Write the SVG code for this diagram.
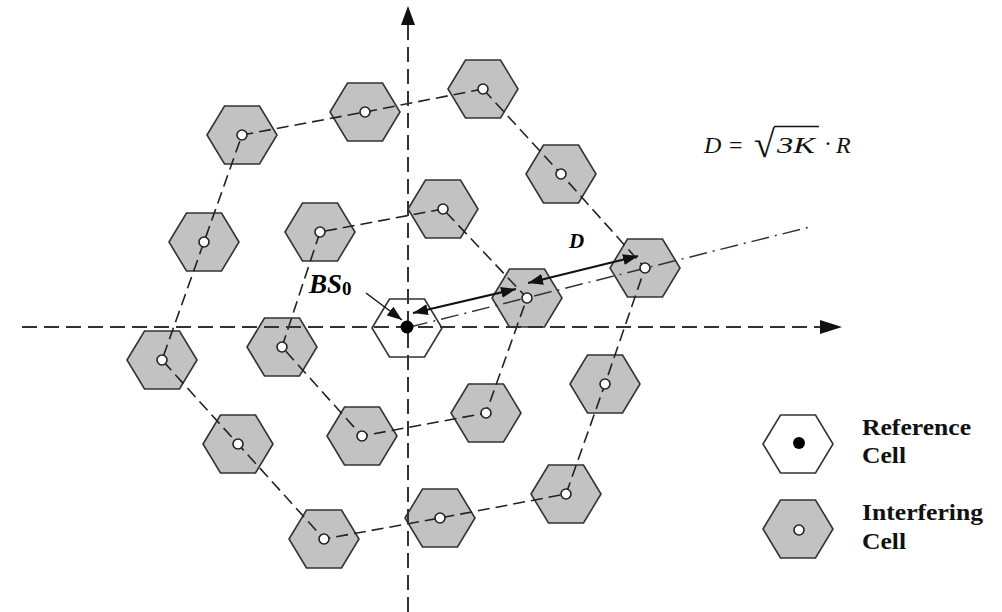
<svg xmlns="http://www.w3.org/2000/svg" xmlns:xlink="http://www.w3.org/1999/xlink" width="1002" height="612" viewBox="0 0 1002 612">
<style>
.ih{fill:#c2c2c2;stroke:#333;stroke-width:1.6}
.rh{fill:#fff;stroke:#333;stroke-width:1.6}
.bs{fill:#fff;stroke:#222;stroke-width:1.6}
.ring{fill:none;stroke:#222;stroke-width:1.6;stroke-dasharray:12 6}
.axis{fill:none;stroke:#333;stroke-width:2;stroke-dasharray:15 7}
.dd{fill:none;stroke:#333;stroke-width:1.5;stroke-dasharray:18 6 2 6}
.arr{fill:none;stroke:#111;stroke-width:2.2}
.lg{font-family:"Liberation Serif","Times New Roman",serif;font-weight:bold;font-size:24px;fill:#111}
.fm{font-family:"Liberation Serif","Times New Roman",serif;font-style:italic;font-size:24px;fill:#111}
.fn{font-family:"Liberation Serif","Times New Roman",serif;font-size:24px;fill:#111}
</style>
<defs>
<polygon id="hx" points="-35,0 -17.5,-29 17.5,-29 35,0 17.5,29 -17.5,29"/>
<marker id="ah" viewBox="0 0 15 11" refX="15" refY="5.5" markerWidth="15" markerHeight="11" markerUnits="userSpaceOnUse" orient="auto-start-reverse">
<path d="M0,0 L15,5.5 L0,11 z" fill="#111"/>
</marker>
</defs>
<rect width="1002" height="612" fill="#fff"/>

<g id="cells">
<g id="ref"><use href="#hx" x="407" y="328" class="rh"/></g>
<g id="a1"><use href="#hx" x="483" y="89" class="ih"/></g>
<g id="a2"><use href="#hx" x="365" y="112" class="ih"/></g>
<g id="a3"><use href="#hx" x="242" y="135" class="ih"/></g>
<g id="a4"><use href="#hx" x="204" y="242" class="ih"/></g>
<g id="a5"><use href="#hx" x="162" y="360" class="ih"/></g>
<g id="a6"><use href="#hx" x="238" y="444" class="ih"/></g>
<g id="a7"><use href="#hx" x="324" y="539" class="ih"/></g>
<g id="a8"><use href="#hx" x="440" y="518" class="ih"/></g>
<g id="a9"><use href="#hx" x="566" y="494" class="ih"/></g>
<g id="a10"><use href="#hx" x="605" y="384" class="ih"/></g>
<g id="a11"><use href="#hx" x="645" y="268" class="ih"/></g>
<g id="a12"><use href="#hx" x="561" y="174" class="ih"/></g>
<g id="b1"><use href="#hx" x="443" y="209" class="ih"/></g>
<g id="b2"><use href="#hx" x="320" y="232" class="ih"/></g>
<g id="b3"><use href="#hx" x="282" y="347" class="ih"/></g>
<g id="b4"><use href="#hx" x="362" y="436" class="ih"/></g>
<g id="b5"><use href="#hx" x="486" y="413" class="ih"/></g>
<g id="b6"><use href="#hx" x="527" y="298" class="ih"/></g>
</g>

<g id="connectors">
<polygon class="ring" points="483,89 365,112 242,135 204,242 162,360 238,444 324,539 440,518 566,494 605,384 645,268 561,174"/>
<polygon class="ring" points="443,209 320,232 282,347 362,436 486,413 527,298"/>
<line class="dd" x1="410" y1="327" x2="810" y2="227"/>
<line class="axis" x1="22" y1="327" x2="824" y2="327"/>
<polygon points="842,327 820,320 820,334" fill="#111"/>
<line class="axis" x1="408" y1="612" x2="408" y2="22"/>
<polygon points="408,6 401,25 415,25" fill="#111"/>
<line class="arr" x1="413" y1="313" x2="516" y2="289" marker-start="url(#ah)" marker-end="url(#ah)"/>
<line class="arr" x1="528" y1="283" x2="638" y2="256" marker-start="url(#ah)" marker-end="url(#ah)"/>
<line x1="366" y1="293" x2="402" y2="320" stroke="#111" stroke-width="1.4" marker-end="url(#ah)"/>
</g>

<g id="stations">
<circle cx="407" cy="327" r="6.5" fill="#000"/>
<circle class="bs" cx="483" cy="89" r="5"/>
<circle class="bs" cx="365" cy="112" r="5"/>
<circle class="bs" cx="242" cy="135" r="5"/>
<circle class="bs" cx="204" cy="242" r="5"/>
<circle class="bs" cx="162" cy="360" r="5"/>
<circle class="bs" cx="238" cy="444" r="5"/>
<circle class="bs" cx="324" cy="539" r="5"/>
<circle class="bs" cx="440" cy="518" r="5"/>
<circle class="bs" cx="566" cy="494" r="5"/>
<circle class="bs" cx="605" cy="384" r="5"/>
<circle class="bs" cx="645" cy="268" r="5"/>
<circle class="bs" cx="561" cy="174" r="5"/>
<circle class="bs" cx="443" cy="209" r="5"/>
<circle class="bs" cx="320" cy="232" r="5"/>
<circle class="bs" cx="282" cy="347" r="5"/>
<circle class="bs" cx="362" cy="436" r="5"/>
<circle class="bs" cx="486" cy="413" r="5"/>
<circle class="bs" cx="527" cy="298" r="5"/>
</g>

<g id="labels">
<text x="309" y="293" font-family="'Liberation Serif', serif" font-weight="bold" font-style="italic" font-size="27">BS<tspan font-style="normal" font-size="19" dy="2">0</tspan></text>
<text x="569" y="248" font-family="'Liberation Serif', serif" font-weight="bold" font-style="italic" font-size="21">D</text>
<g id="formula">
<text class="fm" x="704" y="153">D</text>
<text class="fn" x="729" y="153">=</text>
<text class="fn" x="754" y="157" style="font-size:38px">√</text>
<line x1="774" y1="126.5" x2="819" y2="126.5" stroke="#111" stroke-width="1.5"/>
<text class="fm" x="777" y="153" textLength="38" lengthAdjust="spacingAndGlyphs">3K</text>
<text class="fn" x="824" y="151">·</text>
<text class="fm" x="836" y="153">R</text>
</g>
</g>

<g id="legend-ref">
<use href="#hx" x="798" y="444" class="rh"/>
<circle cx="799" cy="443" r="6" fill="#000"/>
<text class="lg" x="862" y="435" textLength="109" lengthAdjust="spacingAndGlyphs">Reference</text>
<text class="lg" x="862" y="463" textLength="44" lengthAdjust="spacingAndGlyphs">Cell</text>
</g>
<g id="legend-int">
<use href="#hx" x="798" y="529" class="ih"/>
<circle class="bs" cx="799" cy="530" r="5"/>
<text class="lg" x="862" y="520" textLength="121" lengthAdjust="spacingAndGlyphs">Interfering</text>
<text class="lg" x="862" y="549" textLength="44" lengthAdjust="spacingAndGlyphs">Cell</text>
</g>
</svg>
